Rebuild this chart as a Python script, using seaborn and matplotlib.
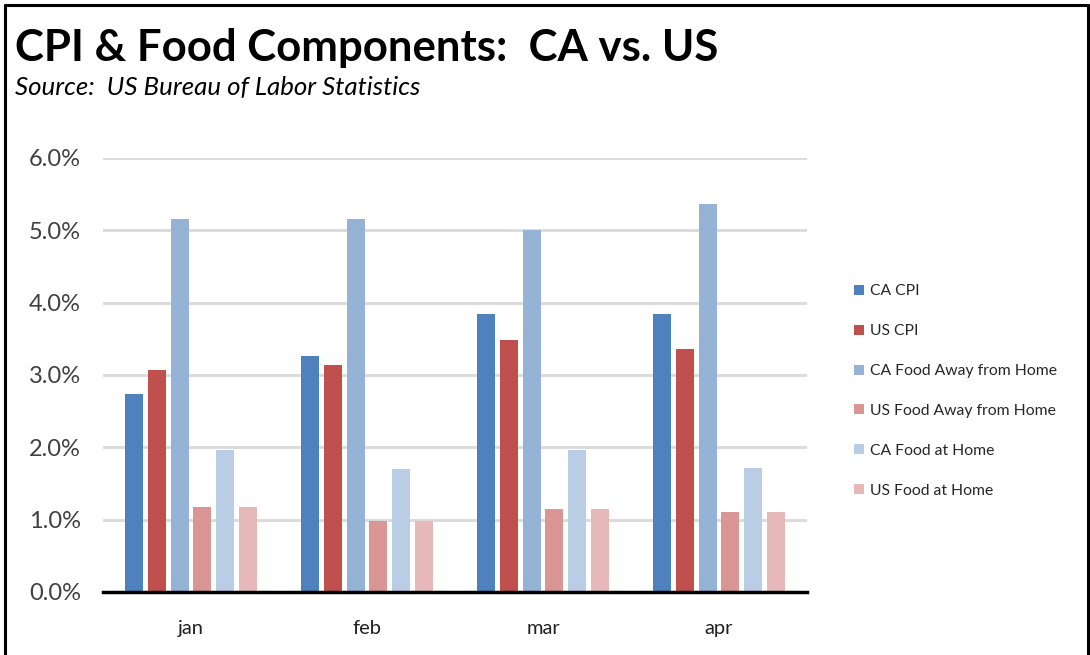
import matplotlib
matplotlib.use("Agg")
import matplotlib.pyplot as plt
from matplotlib.lines import Line2D
from matplotlib.ticker import FuncFormatter
import seaborn as sns
import pandas as pd

months = ["jan", "feb", "mar", "apr"]
series_names = ["CA CPI", "US CPI", "CA Food Away from Home",
                "US Food Away from Home", "CA Food at Home", "US Food at Home"]
ca_cpi = [2.74, 3.26, 3.84, 3.84]
us_cpi = [3.07, 3.14, 3.48, 3.36]
ca_fafh = [5.16, 5.16, 5.00, 5.36]
us_fafh = [1.17, 0.98, 1.15, 1.11]
ca_fah = [1.96, 1.70, 1.96, 1.72]
us_fah = [1.17, 0.98, 1.15, 1.11]
colors = ["#4F81BD", "#C0504D", "#95B3D7", "#D99694", "#B9CDE5", "#E6B9B8"]

all_values = [ca_cpi, us_cpi, ca_fafh, us_fafh, ca_fah, us_fah]
rows = []
for name, vals in zip(series_names, all_values):
    for m, v in zip(months, vals):
        rows.append({"month": m, "series": name, "value": v})
df = pd.DataFrame(rows)

sns.set_style("white")
plt.rcParams["font.family"] = ["Lato", "DejaVu Sans"]

W, H = 1090, 655
fig = plt.figure(figsize=(W / 100, H / 100), dpi=100)
ax = fig.add_axes([103 / W, 1 - 592 / H, (807 - 103) / W, (592 - 158) / H])

sns.barplot(data=df, x="month", y="value", hue="series", order=months,
            hue_order=series_names, palette=colors, saturation=1,
            width=0.775, gap=0.2, linewidth=0, ax=ax)

ax.set_ylim(0, 6)
ax.set_yticks([0, 1, 2, 3, 4, 5, 6])
ax.yaxis.set_major_formatter(FuncFormatter(lambda v, p: f"{v:.1f}%"))
ax.set_xlabel("")
ax.set_ylabel("")
ax.grid(axis="y", color="#D9D9D9", linewidth=2)
ax.set_axisbelow(True)
for s in ["top", "right", "left"]:
    ax.spines[s].set_visible(False)
ax.spines["bottom"].set_color("black")
ax.spines["bottom"].set_linewidth(2.5)
ax.spines["bottom"].set_zorder(5)
ax.tick_params(axis="y", length=0, pad=16, labelsize=17, labelcolor="#404040")
ax.tick_params(axis="x", length=0, pad=20, labelsize=14.5, labelcolor="#202020")

handles, labels = ax.get_legend_handles_labels()
ax.get_legend().remove()
fig.legend(handles, labels, loc="center left",
           bbox_to_anchor=(840 / W, 1 - 391 / H), frameon=False,
           fontsize=11.3, handlelength=0.6, handleheight=0.6,
           handletextpad=0.4, labelspacing=1.65, labelcolor="#262626")

# title and subtitle, fitted to reference widths
renderer = fig.canvas.get_renderer()
def fitted_text(x, y, s, target_w, fs, **kw):
    t = fig.text(x, y, s, fontsize=fs, va="baseline", ha="left", **kw)
    w = t.get_window_extent(renderer).width
    t.set_fontsize(fs * target_w / w)
    return t

fitted_text(15 / W, 1 - 61 / H, "CPI & Food Components:  CA vs. US", 703, 30,
            fontweight="bold", color="black")
fitted_text(15 / W, 1 - 95 / H, "Source:  US Bureau of Labor Statistics", 407, 16,
            style="italic", color="black")

# frame around the figure (left, top, right)
lw = 2.2
fig.add_artist(Line2D([4.5 / W, 4.5 / W], [0, 1 - 5 / H], color="black", lw=lw))
fig.add_artist(Line2D([4.5 / W, 1087.5 / W], [1 - 5 / H, 1 - 5 / H], color="black", lw=lw))
fig.add_artist(Line2D([1087.5 / W, 1087.5 / W], [0, 1 - 5 / H], color="black", lw=lw))

fig.savefig("out.png", dpi=100)
